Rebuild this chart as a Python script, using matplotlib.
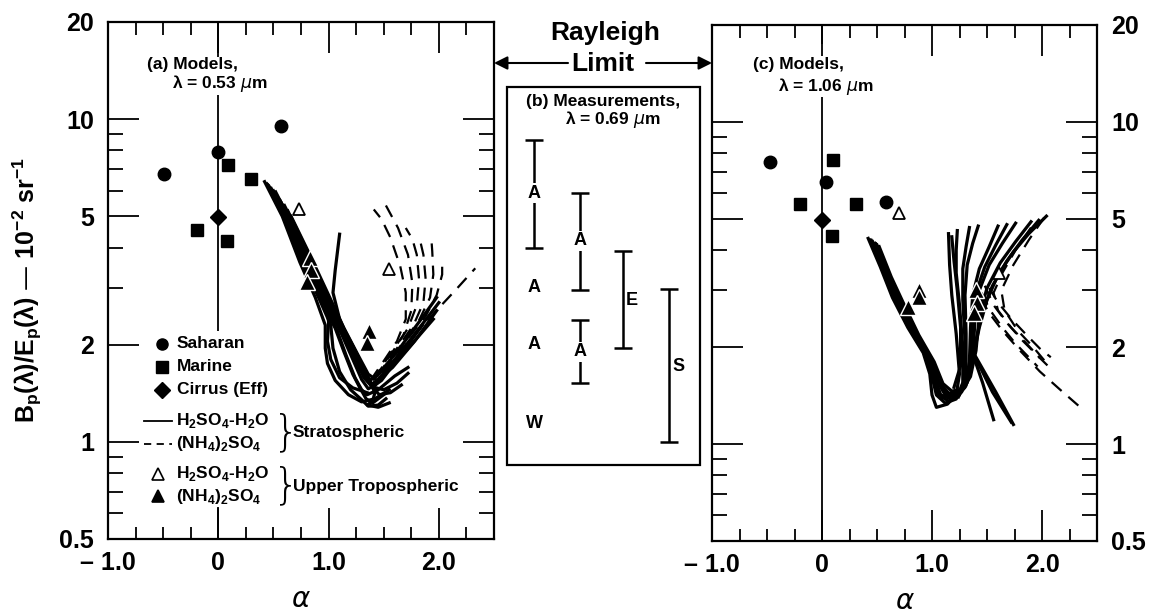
import matplotlib
matplotlib.use("Agg")
import matplotlib.pyplot as plt
from matplotlib.patches import Rectangle, FancyArrowPatch
from matplotlib.ticker import NullFormatter

plt.rcParams['font.family'] = ['Liberation Sans', 'DejaVu Sans']
plt.rcParams['mathtext.fontset'] = 'dejavusans'

#
# Data: alpha (x) and Bp/Ep in 1e-2 sr^-1 (y)
#

# (a) models, 0.53 um
a_saharan_x = [-0.49, 0.0, 0.57]
a_saharan_y = [6.76, 7.91, 9.52]
a_marine_x = [-0.19, 0.08, 0.09, 0.30]
a_marine_y = [4.53, 4.19, 7.2, 6.52]
a_cirrus_x = [0.0]
a_cirrus_y = [4.97]
a_ut_h2so4_x = [0.73, 1.55]
a_ut_h2so4_y = [5.26, 3.43]
a_ut_nh4_x = [0.83, 0.84, 0.80, 1.37, 1.35]
a_ut_nh4_y = [3.70, 3.41, 3.13, 2.21, 2.02]

a_strat_h2so4 = [
    [(0.42, 6.4), (0.58, 5.0), (0.74, 3.6), (0.88, 2.8), (0.97, 2.3), (0.97, 1.95), (0.99, 1.75), (1.06, 1.55), (1.18, 1.40), (1.30, 1.33), (1.42, 1.36), (1.55, 1.45)],
    [(0.44, 6.3), (0.61, 4.9), (0.77, 3.55), (0.92, 2.75), (1.02, 2.3), (1.04, 1.95), (1.10, 1.65), (1.20, 1.45), (1.30, 1.35), (1.36, 1.29), (1.45, 1.30), (1.52, 1.36)],
    [(0.45, 6.25), (0.62, 4.85), (0.79, 3.55), (0.94, 2.72), (1.06, 2.25), (1.14, 1.90), (1.22, 1.62), (1.28, 1.48), (1.34, 1.36), (1.40, 1.32), (1.50, 1.40)],
    [(0.46, 6.2), (0.63, 4.8), (0.80, 3.5), (0.96, 2.7), (1.08, 2.2), (1.16, 1.85), (1.24, 1.58), (1.30, 1.45), (1.35, 1.40), (1.45, 1.45), (1.60, 1.60), (1.72, 1.70)],
    [(0.48, 6.1), (0.65, 4.7), (0.82, 3.45), (0.99, 2.65), (1.12, 2.15), (1.22, 1.80), (1.30, 1.56), (1.36, 1.46), (1.42, 1.50), (1.55, 1.68), (1.75, 2.00), (1.95, 2.40)],
    [(0.50, 6.0), (0.67, 4.6), (0.85, 3.4), (1.02, 2.6), (1.15, 2.1), (1.25, 1.78), (1.32, 1.58), (1.38, 1.50), (1.45, 1.56), (1.60, 1.80), (1.80, 2.20), (2.00, 2.70)],
    [(0.53, 5.8), (0.70, 4.5), (0.88, 3.35), (1.05, 2.55), (1.18, 2.05), (1.28, 1.74), (1.35, 1.56), (1.40, 1.48), (1.48, 1.55), (1.65, 1.85), (1.85, 2.30)],
    [(0.56, 5.6), (0.73, 4.35), (0.90, 3.25), (1.08, 2.45), (1.22, 1.98), (1.32, 1.68), (1.38, 1.52), (1.42, 1.42), (1.40, 1.34), (1.35, 1.30), (1.45, 1.28), (1.55, 1.32)],
    [(0.57, 5.5), (0.75, 4.25), (0.91, 3.2), (1.07, 2.5), (1.20, 2.02), (1.30, 1.72), (1.37, 1.55), (1.44, 1.60), (1.62, 1.90), (1.82, 2.35), (1.98, 2.80)],
    [(0.60, 5.4), (0.76, 4.2), (0.92, 3.15), (1.10, 2.35), (1.24, 1.90), (1.34, 1.62), (1.40, 1.48), (1.50, 1.45), (1.62, 1.52), (1.72, 1.63)],
    [(0.63, 5.2), (0.80, 3.95), (0.96, 3.0), (1.12, 2.3), (1.26, 1.86), (1.35, 1.60), (1.41, 1.46), (1.46, 1.40), (1.56, 1.42), (1.66, 1.50)],
    [(1.10, 4.4), (1.06, 3.4), (1.04, 2.9), (1.10, 2.4), (1.20, 2.0), (1.30, 1.70), (1.38, 1.52)],
    [(0.52, 5.95), (0.68, 4.65), (0.86, 3.45), (0.98, 2.75), (1.00, 2.35), (0.99, 2.05), (1.02, 1.80), (1.10, 1.58), (1.22, 1.47), (1.35, 1.42)],
    [(0.66, 5.0), (0.83, 3.8), (0.98, 2.95), (1.14, 2.25), (1.27, 1.85), (1.36, 1.62), (1.44, 1.55), (1.58, 1.70), (1.78, 2.05), (1.98, 2.55)],
]
a_strat_nh4 = [
    [(1.38, 1.55), (1.50, 1.78), (1.62, 2.05), (1.70, 2.40), (1.70, 2.90), (1.65, 3.50), (1.56, 4.30), (1.48, 4.90), (1.41, 5.25)],
    [(1.40, 1.55), (1.55, 1.85), (1.68, 2.15), (1.75, 2.55), (1.76, 3.10), (1.72, 3.80), (1.63, 4.60), (1.52, 5.40)],
    [(1.42, 1.58), (1.58, 1.90), (1.72, 2.25), (1.80, 2.65), (1.82, 3.20), (1.80, 3.80), (1.76, 4.25), (1.70, 4.60)],
    [(1.44, 1.60), (1.62, 1.95), (1.77, 2.30), (1.86, 2.70), (1.88, 3.20), (1.86, 3.80), (1.82, 4.35)],
    [(1.46, 1.62), (1.66, 2.00), (1.82, 2.38), (1.92, 2.80), (1.95, 3.30), (1.94, 3.90), (1.93, 4.35)],
    [(1.48, 1.64), (1.70, 2.05), (1.88, 2.45), (1.98, 2.85), (2.03, 3.30), (2.03, 3.70)],
    [(1.50, 1.66), (1.75, 2.10), (2.00, 2.60), (2.15, 2.95), (2.33, 3.45)],
]

# (c) models, 1.06 um
c_saharan_x = [-0.475, 0.04, 0.58]
c_saharan_y = [7.51, 6.5, 5.64]
c_marine_x = [-0.20, 0.09, 0.10, 0.31]
c_marine_y = [5.56, 4.43, 7.6, 5.56]
c_cirrus_x = [0.0]
c_cirrus_y = [4.97]
c_ut_h2so4_x = [0.70, 1.61]
c_ut_h2so4_y = [5.21, 3.39]
c_ut_nh4_x = [0.88, 0.88, 0.78, 1.40, 1.41, 1.38]
c_ut_nh4_y = [3.0, 2.86, 2.67, 3.0, 2.75, 2.55]

c_strat_h2so4 = [
    [(0.42, 4.35), (0.53, 3.55), (0.64, 2.85), (0.78, 2.30), (0.92, 1.92), (0.98, 1.65), (1.00, 1.42), (1.04, 1.30), (1.14, 1.33), (1.22, 1.42), (1.25, 1.65), (1.22, 2.2), (1.18, 2.9), (1.16, 3.6), (1.15, 4.5)],
    [(0.44, 4.30), (0.55, 3.50), (0.66, 2.82), (0.80, 2.27), (0.94, 1.90), (1.00, 1.62), (1.04, 1.42), (1.12, 1.34), (1.22, 1.38), (1.28, 1.55), (1.28, 2.0), (1.25, 2.7), (1.22, 3.4), (1.22, 4.0), (1.23, 4.6)],
    [(0.45, 4.28), (0.56, 3.48), (0.67, 2.81), (0.81, 2.26), (0.95, 1.89), (1.02, 1.60), (1.06, 1.42), (1.15, 1.36), (1.25, 1.42), (1.30, 1.62), (1.30, 2.1), (1.28, 2.8), (1.28, 3.5), (1.31, 4.1), (1.34, 4.7)],
    [(0.46, 4.25), (0.57, 3.45), (0.68, 2.80), (0.82, 2.25), (0.96, 1.88), (1.03, 1.58), (1.08, 1.42), (1.18, 1.38), (1.27, 1.45), (1.31, 1.70), (1.31, 2.2), (1.30, 2.9), (1.32, 3.6), (1.37, 4.2), (1.42, 4.75)],
    [(0.48, 4.20), (0.59, 3.40), (0.70, 2.78), (0.84, 2.22), (0.98, 1.85), (1.05, 1.56), (1.12, 1.42), (1.22, 1.40), (1.30, 1.50), (1.34, 1.80), (1.35, 2.3), (1.37, 2.9), (1.43, 3.5), (1.52, 4.1), (1.60, 4.75)],
    [(0.49, 4.18), (0.60, 3.38), (0.71, 2.77), (0.85, 2.21), (0.99, 1.84), (1.06, 1.56), (1.14, 1.43), (1.24, 1.42), (1.31, 1.52), (1.36, 1.82), (1.37, 2.35), (1.40, 2.95), (1.48, 3.55), (1.58, 4.15), (1.68, 4.8)],
    [(0.50, 4.15), (0.61, 3.35), (0.72, 2.76), (0.86, 2.20), (1.00, 1.83), (1.07, 1.55), (1.15, 1.44), (1.25, 1.44), (1.32, 1.55), (1.37, 1.85), (1.39, 2.4), (1.43, 3.0), (1.52, 3.6), (1.64, 4.2), (1.76, 4.85)],
    [(0.52, 4.10), (0.63, 3.30), (0.74, 2.74), (0.88, 2.18), (1.02, 1.80), (1.10, 1.54), (1.18, 1.46), (1.28, 1.48), (1.35, 1.62), (1.40, 1.95), (1.43, 2.5), (1.50, 3.05), (1.62, 3.65), (1.76, 4.25), (1.90, 4.9)],
    [(1.24, 1.40), (1.32, 1.60), (1.38, 1.90), (1.43, 2.30), (1.50, 2.80), (1.60, 3.35), (1.74, 3.95), (1.88, 4.50), (2.04, 5.10)],
    [(1.26, 1.45), (1.34, 1.70), (1.40, 2.10), (1.46, 2.60), (1.55, 3.10), (1.68, 3.70), (1.82, 4.30), (1.97, 4.95)],
    [(1.20, 1.50), (1.26, 1.75), (1.26, 2.30), (1.23, 3.00), (1.20, 3.70), (1.18, 4.40)],
    [(1.36, 1.95), (1.46, 1.55), (1.56, 1.19)],
    [(1.38, 1.90), (1.55, 1.45), (1.72, 1.17)],
    [(1.40, 1.86), (1.58, 1.45), (1.74, 1.15)],
]
c_strat_nh4 = [
    [(2.02, 5.05), (1.88, 4.30), (1.74, 3.60), (1.63, 3.00), (1.66, 2.60), (1.78, 2.25), (1.92, 2.00), (2.02, 1.82)],
    [(1.90, 4.70), (1.76, 4.00), (1.64, 3.40), (1.56, 2.95), (1.60, 2.60), (1.72, 2.30), (1.86, 2.05), (1.98, 1.85)],
    [(1.48, 3.10), (1.56, 2.70), (1.68, 2.38), (1.82, 2.10), (1.96, 1.88), (2.06, 1.74)],
    [(1.45, 2.95), (1.53, 2.60), (1.64, 2.30), (1.76, 2.05), (1.88, 1.86), (1.96, 1.74)],
    [(1.52, 3.05), (1.60, 2.75), (1.72, 2.45), (1.86, 2.18), (1.98, 1.98), (2.08, 1.86)],
    [(1.44, 2.85), (1.52, 2.55), (1.64, 2.25), (1.80, 1.95), (1.98, 1.68), (2.16, 1.48), (2.36, 1.29)],
]

# (b) measurements, 0.69 um: ranges and single values
meas_bar_labels = ['A', 'A', 'A', 'E', 'S']
meas_bar_hi = [8.6, 5.9, 2.38, 3.9, 2.97]
meas_bar_lo = [4.0, 2.96, 1.52, 1.95, 1.0]
meas_bar_label_y = [5.9, 4.2, 1.9, 2.75, 1.71]
meas_pt_labels = ['A', 'A', 'W']
meas_pt_y = [3.0, 2.0, 1.14]

# axis ticks
x_major = [-1.0, 0.0, 1.0, 2.0]
x_major_labels = ['\u2013 1.0', '0', '1.0', '2.0']
x_minor = [-0.75, -0.5, -0.25, 0.25, 0.5, 0.75, 1.25, 1.5, 1.75, 2.25]
y_major = [0.5, 1, 2, 5, 10, 20]
y_major_labels = ['0.5', '1', '2', '5', '10', '20']
y_minor = [0.6, 0.7, 0.8, 0.9, 3, 4, 6, 7, 8, 9]

#
# Layout in pixels of the 1151x614 picture
#
W, H = 1151, 614
fig = plt.figure(figsize=(W / 100, H / 100), dpi=100)
TXT = dict(fontsize=12.5, fontweight='bold')


def px_axes(x0, y0, x1, y1):
    return fig.add_axes([x0 / W, 1 - y1 / H, (x1 - x0) / W, (y1 - y0) / H])


def fig_xy(px, py):
    return px / W, 1 - py / H


A_PX = (108, 22, 494, 539)
C_PX = (712, 25, 1097, 541)
ax_a = px_axes(*A_PX)
ax_b = px_axes(507, 22, 700, 539)
ax_c = px_axes(*C_PX)


def setup(ax, labels_right):
    ax.set_yscale('log')
    ax.set_xlim(-1, 2.5)
    ax.set_ylim(0.5, 20)
    ax.set_xticks(x_major)
    ax.set_xticklabels(x_major_labels, fontsize=18, fontweight='bold')
    ax.set_xticks(x_minor, minor=True)
    ax.set_yticks(y_major)
    ax.set_yticklabels(y_major_labels, fontsize=18, fontweight='bold')
    ax.set_yticks(y_minor, minor=True)
    ax.yaxis.set_minor_formatter(NullFormatter())
    ax.tick_params(which='both', direction='in', top=True, right=True, width=1.3)
    ax.tick_params(which='major', length=22)
    ax.tick_params(axis='x', which='minor', length=9)
    ax.tick_params(axis='y', which='minor', length=11)
    ax.tick_params(axis='x', pad=9)
    ax.tick_params(axis='y', pad=10, labelleft=not labels_right, labelright=labels_right)
    for s in ax.spines.values():
        s.set_linewidth(1.6)
    ax.axvline(0, color='k', lw=1.3, zorder=1)
    ax.set_xlabel(r'$\alpha$', fontsize=20, labelpad=8)


def draw_models(ax, solid, dashed, sah, mar, cir, uth, utn):
    for c in solid:
        xs, ys = zip(*c)
        ax.plot(xs, ys, color='k', lw=2.3, zorder=2)
    for c in dashed:
        xs, ys = zip(*c)
        ax.plot(xs, ys, color='k', lw=1.6, dashes=(6, 4), zorder=2)
    ax.plot(*sah, 'o', color='k', ms=9, zorder=4)
    ax.plot(*mar, 's', color='k', ms=8, zorder=4)
    ax.plot(*cir, 'D', color='k', ms=8, zorder=4)
    ax.plot(*uth, '^', mfc='white', mec='k', mew=1.3, ms=9, zorder=4)
    ax.plot(*utn, '^', mfc='k', mec='white', mew=1.0, ms=11, zorder=4)


setup(ax_a, False)
setup(ax_c, True)

draw_models(ax_a, a_strat_h2so4, a_strat_nh4,
            (a_saharan_x, a_saharan_y), (a_marine_x, a_marine_y), (a_cirrus_x, a_cirrus_y),
            (a_ut_h2so4_x, a_ut_h2so4_y), (a_ut_nh4_x, a_ut_nh4_y))
draw_models(ax_c, c_strat_h2so4, c_strat_nh4,
            (c_saharan_x, c_saharan_y), (c_marine_x, c_marine_y), (c_cirrus_x, c_cirrus_y),
            (c_ut_h2so4_x, c_ut_h2so4_y), (c_ut_nh4_x, c_ut_nh4_y))


def gap(ax, x0, y0, x1, y1, ax_px):
    # white patch that breaks the alpha = 0 line behind text
    ax0, ay0, ax1, ay1 = ax_px
    ax.add_patch(Rectangle(((x0 - ax0) / (ax1 - ax0), (ay1 - y1) / (ay1 - ay0)),
                           (x1 - x0) / (ax1 - ax0), (y1 - y0) / (ay1 - ay0),
                           transform=ax.transAxes, fc='white', ec='none', zorder=1.5))


def pfrac(ax_px, px, py):
    ax0, ay0, ax1, ay1 = ax_px
    return (px - ax0) / (ax1 - ax0), (ay1 - py) / (ay1 - ay0)


gap(ax_a, 205, 57, 232, 95, A_PX)
gap(ax_a, 205, 331, 232, 507, A_PX)
gap(ax_c, 810, 44, 835, 97, C_PX)

ax_a.text(*pfrac(A_PX, 147, 65), '(a) Models,', transform=ax_a.transAxes, va='center', **TXT)
ax_a.text(*pfrac(A_PX, 172, 84), r'λ = 0.53 $\mu$m', transform=ax_a.transAxes, va='center', **TXT)
ax_c.text(*pfrac(C_PX, 753, 65), '(c) Models,', transform=ax_c.transAxes, va='center', **TXT)
ax_c.text(*pfrac(C_PX, 778, 87), r'λ = 1.06 $\mu$m', transform=ax_c.transAxes, va='center', **TXT)

# legend of panel (a), drawn by hand
lt = ax_a.transAxes
for mk, py, txt in [('o', 344, 'Saharan'), ('s', 367, 'Marine'), ('D', 390, 'Cirrus (Eff)')]:
    fx, fy = pfrac(A_PX, 162, py)
    ax_a.plot([fx], [fy], mk, color='k', ms=8, transform=lt, clip_on=False)
    ax_a.text(pfrac(A_PX, 177, py)[0], fy, txt, transform=lt, va='center', **TXT)

h2so4 = r'H$_\mathregular{2}$SO$_\mathregular{4}$-H$_\mathregular{2}$O'
nh4 = r'(NH$_\mathregular{4}$)$_\mathregular{2}$SO$_\mathregular{4}$'
for py, dash, txt in [(421, None, h2so4), (444, (4, 3), nh4)]:
    x0, fy = pfrac(A_PX, 144, py)
    x1, _ = pfrac(A_PX, 172, py)
    ln, = ax_a.plot([x0, x1], [fy, fy], color='k', lw=1.3, transform=lt)
    if dash:
        ln.set_dashes(dash)
    ax_a.text(pfrac(A_PX, 176, py)[0], fy, txt, transform=lt, va='center', **TXT)
for py, face, txt in [(474, 'white', h2so4), (496, 'k', nh4)]:
    fx, fy = pfrac(A_PX, 158, py)
    ax_a.plot([fx], [fy], '^', mfc=face, mec='k', mew=1.2, ms=9, transform=lt)
    ax_a.text(pfrac(A_PX, 176, py)[0], fy, txt, transform=lt, va='center', **TXT)
for py, txt in [(433, 'Stratospheric'), (486, 'Upper Tropospheric')]:
    fx, fy = pfrac(A_PX, 286, py)
    ax_a.text(fx, fy, '}', transform=lt, fontsize=30, va='center', ha='center',
              family='DejaVu Sans', fontweight='light')
    ax_a.text(pfrac(A_PX, 293, py)[0], fy, txt, transform=lt, va='center', **TXT)

# panel (b)
ax_b.set_yscale('log')
ax_b.set_ylim(0.5, 20)
ax_b.set_xlim(507, 700)
ax_b.axis('off')
ax_b.add_patch(Rectangle((0, (539 - 465) / 517), 1, (465 - 87) / 517, transform=ax_b.transAxes,
                         fill=False, lw=1.6, ec='k', clip_on=False))
bar_x = [534, 580, 580, 623, 669]
label_side = [False, False, False, True, True]
ax_b.vlines(bar_x, meas_bar_lo, meas_bar_hi, color='k', lw=1.8)
ax_b.plot(bar_x, meas_bar_hi, ls='none', marker='_', ms=13, mew=1.8, color='k')
ax_b.plot(bar_x, meas_bar_lo, ls='none', marker='_', ms=13, mew=1.8, color='k')
for x, side, y, t in zip(bar_x, label_side, meas_bar_label_y, meas_bar_labels):
    if side:
        ax_b.text(x + 3, y, t, ha='left', va='center', fontsize=13, fontweight='bold')
    else:
        ax_b.text(x, y, t, ha='center', va='center', fontsize=13, fontweight='bold',
                  bbox=dict(fc='white', ec='none', pad=1))
for y, t in zip(meas_pt_y, meas_pt_labels):
    ax_b.text(534, y, t, ha='center', va='center', fontsize=13, fontweight='bold')
ax_b.text(0.5, (539 - 102) / 517, '(b) Measurements,', transform=ax_b.transAxes,
          ha='center', va='center', **TXT)
ax_b.text(0.55, (539 - 120) / 517, r'λ = 0.69 $\mu$m', transform=ax_b.transAxes,
          ha='center', va='center', **TXT)

# Rayleigh limit arrows
fig.text(*fig_xy(605, 33), 'Rayleigh', fontsize=19, fontweight='bold', ha='center', va='center')
fig.text(*fig_xy(603, 64), 'Limit', fontsize=19, fontweight='bold', ha='center', va='center')
for p0, p1 in [((568, 63), (494, 63)), ((646, 63), (712, 63))]:
    fig.add_artist(FancyArrowPatch(fig_xy(*p0), fig_xy(*p1), transform=fig.transFigure,
                                   arrowstyle='-|>', mutation_scale=20, lw=1.5, color='k',
                                   shrinkA=0, shrinkB=0))

fig.text(*fig_xy(27, 290),
         r'B$_\mathregular{p}$(λ)/E$_\mathregular{p}$(λ) — 10$^\mathregular{-2}$ sr$^\mathregular{-1}$',
         rotation=90, fontsize=18, fontweight='bold', ha='center', va='center')

plt.savefig("out.png", dpi=100)
plt.close()
